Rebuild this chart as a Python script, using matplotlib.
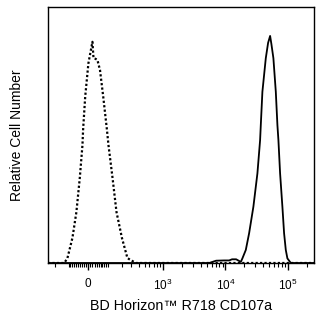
import numpy as np
import matplotlib
matplotlib.use("Agg")
import matplotlib.pyplot as plt
from matplotlib.ticker import FixedLocator, NullFormatter

# ---- data (fluorescence intensity vs relative count) ----
dotted_x = [-265, -150, -127, -107, -78, -57, -40, -27, -24, -14, 1, 20, 25, 36, 44, 57,
            74, 95, 104, 130, 158, 202, 255, 357, 600, 262143]
dotted_y = [0, 0, 0, 1.9, 9.8, 19.9, 33.2, 46.1, 52.0, 65.0, 78.0, 86.4, 80.0, 79.7, 79.3, 75.4,
            65.0, 52.0, 46.1, 33.2, 19.9, 9.8, 1.9, 0, 0, 0]

solid_x = [-265, 3000, 5487, 7100, 9537, 11465, 12800, 14844, 16570, 17637, 18706, 21209,
           23960, 28060, 32537, 35930, 36865, 39113, 44322, 48260, 51976, 54530, 58661,
           64110, 68020, 70590, 75100, 81750, 87030, 92650, 98300, 111480, 262143]
solid_y = [0, 0, 0, 0.9, 1.0, 1.0, 1.45, 1.45, 0.8, 0.4, 1.8, 5.1,
           11.6, 22.0, 35.0, 48.0, 53.9, 66.9, 80.0, 86.0, 88.7, 85.5, 80.0,
           66.9, 53.9, 48.0, 35.0, 22.0, 11.6, 5.1, 1.8, 0, 0]

major_ticks = [0, 1e3, 1e4, 1e5]
major_labels = ["0", "$10^3$", "$10^4$", "$10^5$"]
minor_ticks = ([-200, -100] + list(range(-90, 0, 10)) + list(range(10, 100, 10)) +
               list(range(100, 1000, 100)) + list(range(2000, 10000, 1000)) +
               list(range(20000, 100000, 10000)) + [200000])

x_label = "BD Horizon™ R718 CD107a"
y_label = "Relative Cell Number"

# ---- style ----
plt.rcParams["font.family"] = ["Liberation Sans", "DejaVu Sans"]
plt.rcParams["mathtext.fontset"] = "custom"
plt.rcParams["mathtext.rm"] = "Liberation Sans"
plt.rcParams["mathtext.it"] = "Liberation Sans"

fig = plt.figure(figsize=(3.2, 3.2), dpi=100)
ax = fig.add_axes([48 / 320, 57 / 320, 266 / 320, 256 / 320])

W = 127.0
def fwd(x):
    return np.arcsinh(np.asarray(x, dtype=float) / W)
def inv(y):
    return W * np.sinh(np.asarray(y, dtype=float))

ax.set_xscale("function", functions=(fwd, inv))

ax.plot(dotted_x, dotted_y, color="black", lw=1.6, linestyle=(0, (1, 1)))
ax.plot(solid_x, solid_y, color="black", lw=1.3)

ax.set_xlim(-265, 262143)
ax.set_ylim(0, 100)

ax.xaxis.set_major_locator(FixedLocator(major_ticks))
ax.set_xticklabels(major_labels)
ax.xaxis.set_minor_locator(FixedLocator(minor_ticks))
ax.xaxis.set_minor_formatter(NullFormatter())
ax.tick_params(axis="x", which="major", direction="out", length=5, width=1,
               labelsize=8.5, pad=6)
ax.tick_params(axis="x", which="minor", direction="out", length=3, width=0.8)
ax.set_yticks([])

for s in ax.spines.values():
    s.set_linewidth(1.0)
    s.set_color("black")

ax.set_xlabel(x_label, fontsize=10.3, labelpad=4)
ax.set_ylabel(y_label, fontsize=10, labelpad=17)

fig.savefig("out.png", dpi=100, facecolor="white")
